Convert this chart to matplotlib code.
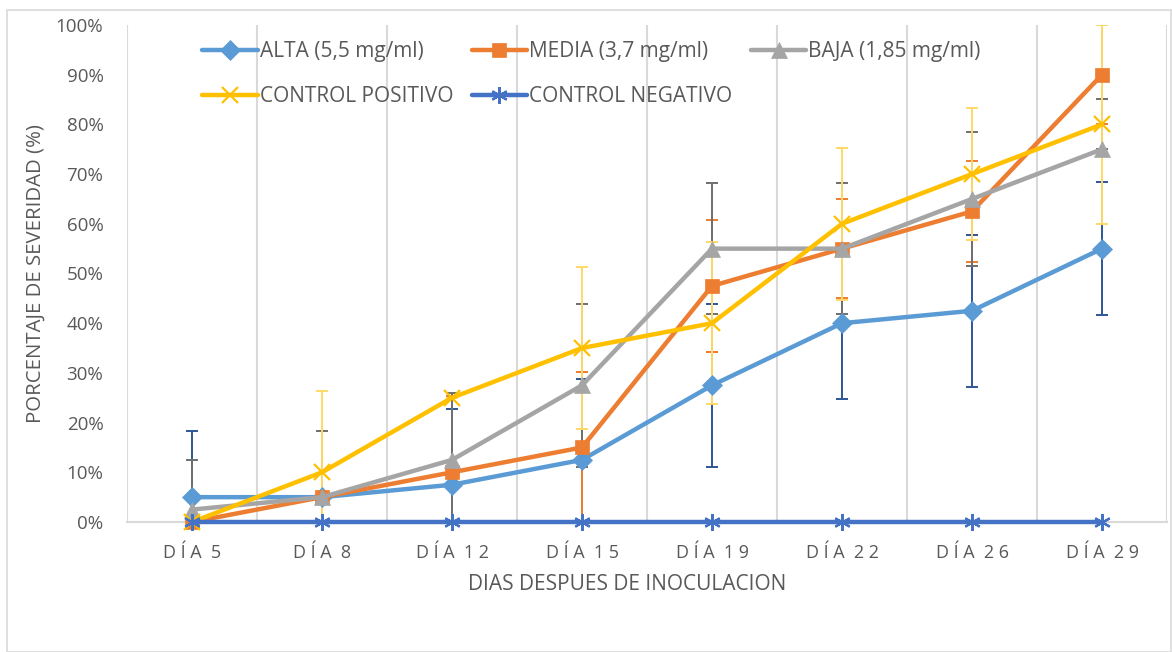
import matplotlib
matplotlib.use("Agg")
import matplotlib.pyplot as plt
import numpy as np
from matplotlib.patches import Rectangle

# ---------------- DATA ----------------
days = ["DÍA 5", "DÍA 8", "DÍA 12", "DÍA 15", "DÍA 19", "DÍA 22", "DÍA 26", "DÍA 29"]

alta = [5, 5, 7.5, 12.5, 27.5, 40, 42.5, 55]
media = [0, 5, 10, 15, 47.5, 55, 62.5, 90]
baja = [2.5, 5, 12.5, 27.5, 55, 55, 65, 75]
control_pos = [0, 10, 25, 35, 40, 60, 70, 80]
control_neg = [0, 0, 0, 0, 0, 0, 0, 0]

# error bars (lower, upper)
alta_err = [13.3, 0, 15.2, 16.3, 16.4, 15.3, 15.3, 13.4]
media_err = [0, 0, 15.4, 15.2, 13.3, 10, 10.1, 10]
baja_err_low = [10, 13.3, 13.4, 16.4, 13.2, 13.2, 13.5, 0]
baja_err_up = [10, 13.3, 13.4, 16.4, 13.2, 13.2, 13.5, 10.1]
control_pos_err = [0, 16.4, 0, 16.3, 16.3, 15.3, 13.3, 20]
control_neg_err = [0, 0, 0, 0, 0, 0, 0, 0]

labels = ["ALTA (5,5 mg/ml)", "MEDIA (3,7 mg/ml)", "BAJA (1,85 mg/ml)",
          "CONTROL POSITIVO", "CONTROL NEGATIVO"]


def spaced(label):
    # mimic the letter spacing of the category labels
    return " ".join(label.replace(" ", "  ")).replace("     ", "  ")


def main():
    plt.rcParams["font.family"] = ["Open Sans", "DejaVu Sans"]
    text_color = "#595959"
    grid_color = "#D9D9D9"

    fig = plt.figure(figsize=(11.72, 6.52), dpi=100)
    ax = fig.add_axes([127 / 1172, 1 - 522 / 652, 1040 / 1172, 497 / 652])

    x = np.arange(len(days))
    series = [
        (alta, [alta_err, alta_err], "#5B9BD5", "#2F5597", "D", 10.5),
        (media, [media_err, media_err], "#ED7D31", "#ED7D31", "s", 10.5),
        (baja, [baja_err_low, baja_err_up], "#A5A5A5", "#6F6F6F", "^", 11.5),
        (control_pos, [control_pos_err, control_pos_err], "#FFC000", "#FFD966", "x", 11.5),
        (control_neg, [control_neg_err, control_neg_err], "#4472C4", "#4472C4", (6, 2, 0), 12),
    ]

    # error bars first, underneath the lines
    for vals, err, col, ecol, mk, ms in series:
        if max(err[1]) > 0:
            ax.errorbar(x, vals, yerr=err, fmt="none", ecolor=ecol,
                        elinewidth=1.4, capsize=4.5, capthick=1.4, zorder=2)

    handles = []
    for i, (vals, err, col, ecol, mk, ms) in enumerate(series):
        thin = mk == "x" or isinstance(mk, tuple)
        h, = ax.plot(x, vals, color=col, lw=3.2, marker=mk, markersize=ms,
                     markeredgewidth=1.6 if thin else 0.5,
                     markeredgecolor=col, markerfacecolor=col,
                     label=labels[i], zorder=3 + i, clip_on=False,
                     solid_capstyle="round")
        handles.append(h)

    ax.set_xlim(-0.5, len(days) - 0.5)
    ax.set_ylim(0, 100)
    ax.set_yticks(np.arange(0, 101, 10))
    ax.set_yticklabels([f"{v}%" for v in range(0, 101, 10)])
    ax.set_xticks(x)
    ax.set_xticklabels([spaced(d) for d in days])
    ax.set_xticks(np.arange(-0.5, len(days), 1), minor=True)
    ax.grid(which="minor", axis="x", color=grid_color, lw=1.5, zorder=0)
    ax.tick_params(axis="both", which="both", length=0, colors=text_color)
    ax.tick_params(axis="y", labelsize=13.5, pad=17)
    ax.tick_params(axis="x", labelsize=13, pad=16)

    for side in ["left", "top", "right"]:
        ax.spines[side].set_visible(False)
    ax.spines["bottom"].set_color(grid_color)
    ax.spines["bottom"].set_linewidth(1.5)

    ax.set_ylabel("PORCENTAJE DE SEVERIDAD (%)", fontsize=14.7, color=text_color, labelpad=7)
    fig.text(627 / 1172, 1 - 585 / 652, "DIAS DESPUES DE INOCULACION",
             fontsize=15, color=text_color, ha="center", va="center")

    # legend: row-major order with 3 columns
    order = [0, 3, 1, 4, 2]
    leg = ax.legend([handles[i] for i in order], [labels[i] for i in order],
                    ncol=3, loc="upper left", bbox_to_anchor=(194 / 1172, 1 - 33 / 652),
                    bbox_transform=fig.transFigure, frameon=False,
                    fontsize=15, handlelength=2.65, handletextpad=0.1,
                    columnspacing=0.9, labelspacing=1.15, borderaxespad=0)
    for t in leg.get_texts():
        t.set_color(text_color)

    # chart area border
    fig.patches.append(Rectangle((7 / 1172, 0), 1164 / 1172, 1 - 10 / 652,
                                 transform=fig.transFigure, fill=False,
                                 edgecolor=grid_color, lw=1.2))

    fig.savefig("out.png", dpi=100)
    plt.close(fig)


if __name__ == "__main__":
    main()
